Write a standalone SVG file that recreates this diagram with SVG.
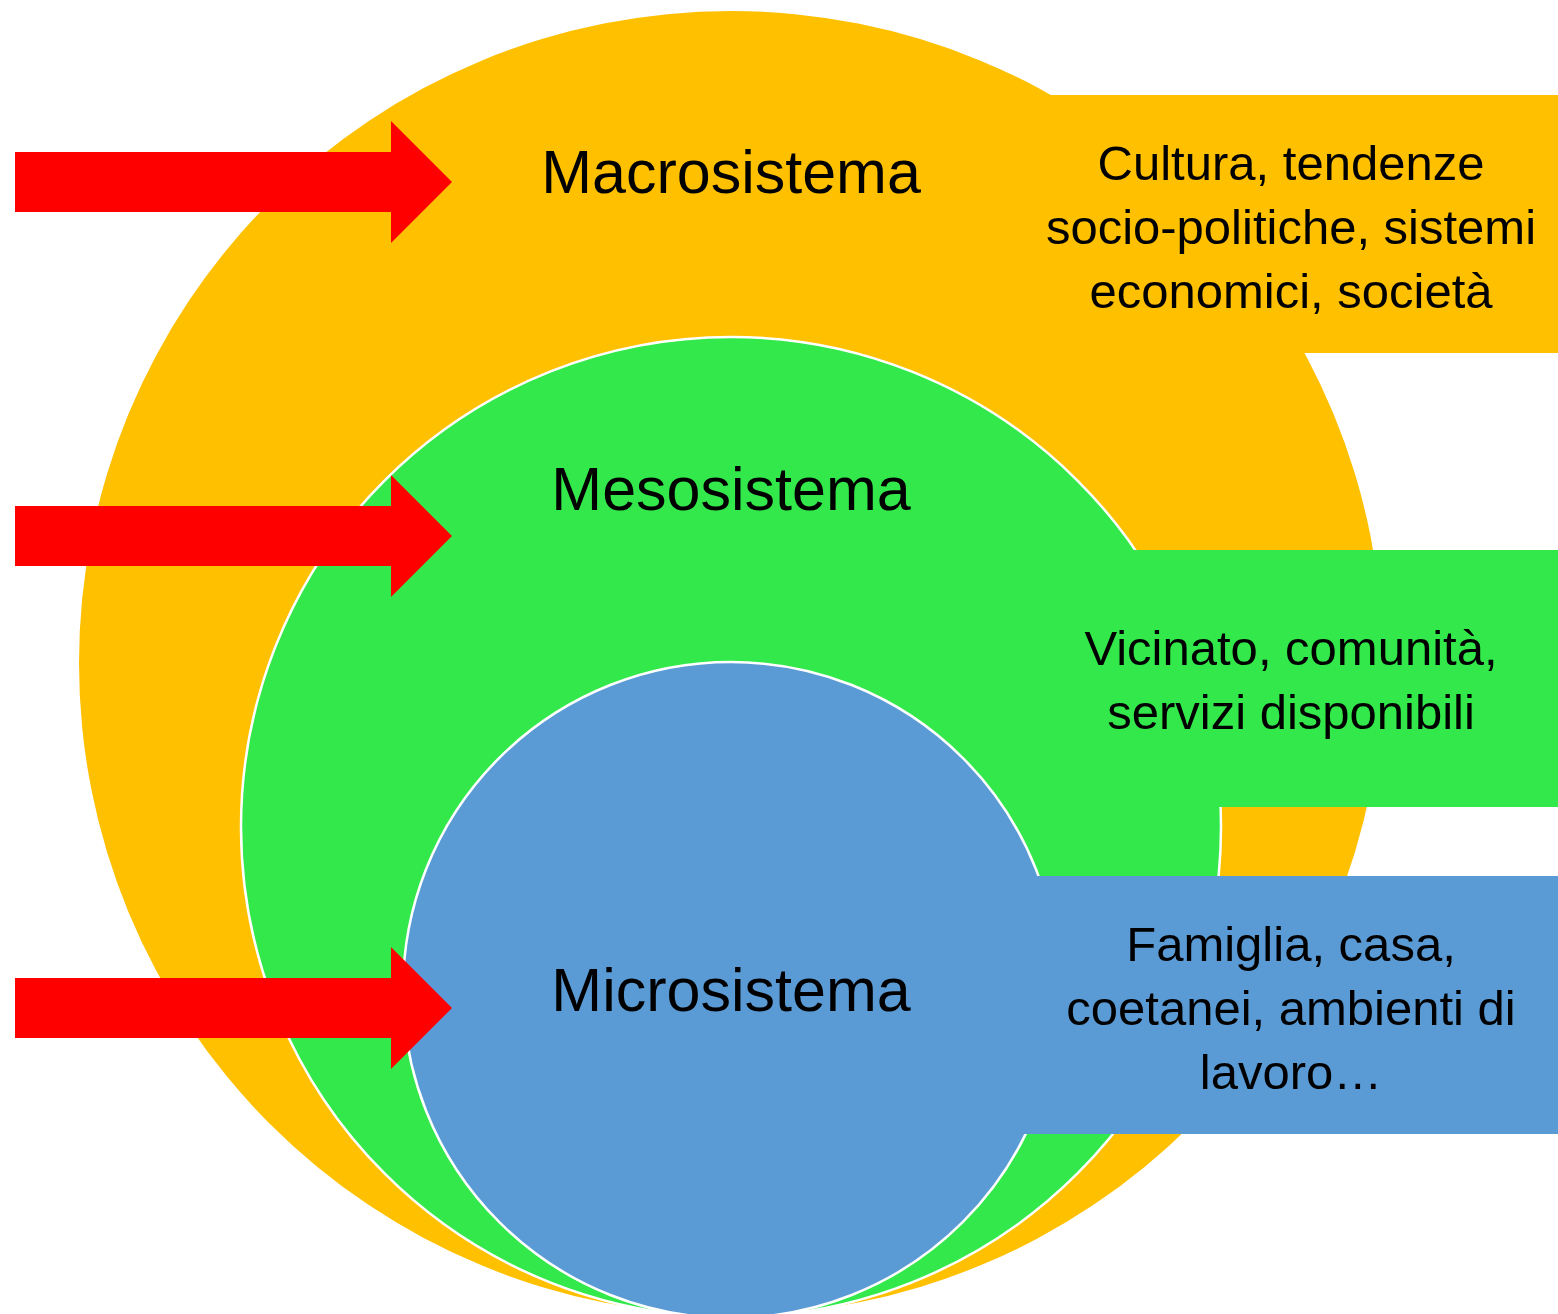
<svg xmlns="http://www.w3.org/2000/svg" xmlns:xlink="http://www.w3.org/1999/xlink" width="1558" height="1314" viewBox="0 0 1558 1314">
<style>
.orange{fill:#FFC000}
.green{fill:#32E84A}
.blue{fill:#5B9BD5}
.ring{stroke:#FFFFFF;stroke-width:2.5}
.title{font-family:"Liberation Sans",Arial,sans-serif;font-size:61px;fill:#000;text-anchor:middle}
.desc{font-family:"Liberation Sans",Arial,sans-serif;font-size:49px;fill:#000;text-anchor:middle}
.arrow{fill:#FF0000}
</style>
<defs>
<polygon id="arrowShape" points="15,-30 391,-30 391,-61 452,0 391,61 391,30 15,30"/>
</defs>
<rect width="1558" height="1314" fill="#FFFFFF"/>
<g id="macrosistema">
<circle class="orange" cx="731" cy="663" r="652"/>
<rect class="orange" x="1040" y="95" width="518" height="258"/>
</g>
<g id="mesosistema">
<circle class="green ring" cx="731" cy="827" r="490"/>
<rect class="green" x="1100" y="550" width="458" height="257"/>
</g>
<g id="microsistema">
<circle class="blue ring" cx="731" cy="990" r="328"/>
<rect class="blue" x="1000" y="876" width="558" height="258"/>
</g>
<g id="connectors">
<use xlink:href="#arrowShape" class="arrow" transform="translate(0,182)"/>
<use xlink:href="#arrowShape" class="arrow" transform="translate(0,536)"/>
<use xlink:href="#arrowShape" class="arrow" transform="translate(0,1008)"/>
</g>
<g id="labels">
<text class="title" x="731" y="193">Macrosistema</text>
<text class="title" x="731" y="510">Mesosistema</text>
<text class="title" x="731" y="1011">Microsistema</text>
<text class="desc" x="1291" y="180">Cultura, tendenze</text>
<text class="desc" x="1291" y="244">socio-politiche, sistemi</text>
<text class="desc" x="1291" y="308">economici, società</text>
<text class="desc" x="1291" y="665">Vicinato, comunità,</text>
<text class="desc" x="1291" y="729">servizi disponibili</text>
<text class="desc" x="1291" y="961">Famiglia, casa,</text>
<text class="desc" x="1291" y="1025">coetanei, ambienti di</text>
<text class="desc" x="1291" y="1089">lavoro…</text>
</g>
</svg>
